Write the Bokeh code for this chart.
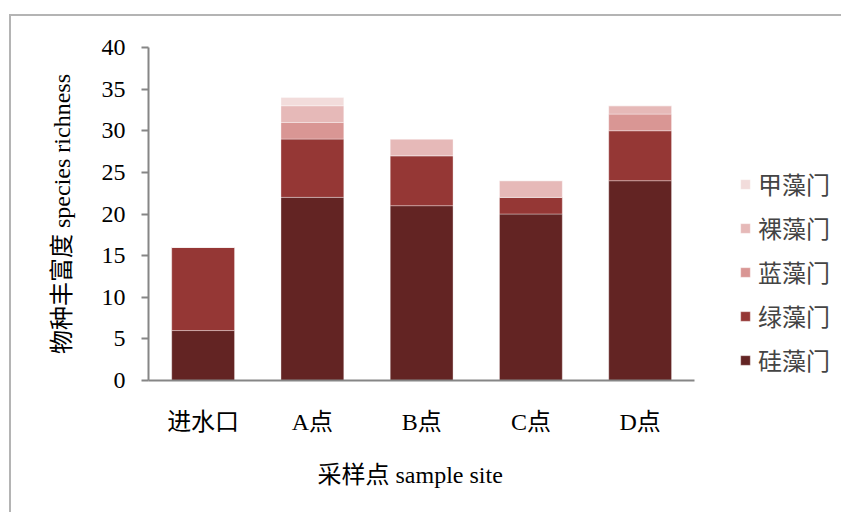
from bokeh.plotting import figure
from bokeh.models import Range1d, Legend, LegendItem, FixedTicker, ColumnDataSource, Title
from bokeh.embed import file_html
from bokeh.resources import INLINE

sites = ["进水口", "A点", "B点", "C点", "D点"]
phyla = ["硅藻门", "绿藻门", "蓝藻门", "裸藻门", "甲藻门"]
diatoms = [6, 22, 21, 20, 24]
green = [10, 7, 6, 2, 6]
cyano = [0, 2, 0, 0, 2]
eugleno = [0, 2, 2, 2, 1]
pyrro = [0, 1, 0, 0, 0]
colors = ["#632423", "#953735", "#D99694", "#E6B9B8", "#F2DCDB"]
y_ticks = [0, 5, 10, 15, 20, 25, 30, 35, 40]

FONT = "'Liberation Serif', 'Noto Sans CJK SC'"
FS = "24px"

xpos = [i + 0.5 for i in range(len(sites))]
source = ColumnDataSource(dict(x=xpos, **{phyla[0]: diatoms, phyla[1]: green,
                                          phyla[2]: cyano, phyla[3]: eugleno, phyla[4]: pyrro}))

p = figure(width=841, height=512, x_range=Range1d(0, 6.343),
           y_range=Range1d(0, 40), output_backend="svg", toolbar_location=None,
           min_border_left=148, min_border_right=0, min_border_top=47, min_border_bottom=132)
p.outline_line_color = None
p.grid.grid_line_color = None
p.border_fill_alpha = 0
p.background_fill_color = "white"
p.styles = {
    "background-color": "white",
    "background-image": "linear-gradient(#B4B4B4, #B4B4B4), linear-gradient(#B4B4B4, #B4B4B4)",
    "background-size": "2px 100%, 100% 2px",
    "background-position": "9px 14px, 9px 14px",
    "background-repeat": "no-repeat",
}

renderers = p.vbar_stack(phyla, x="x", width=0.575, source=source, color=colors,
                         line_color="white", line_alpha=0.35, line_width=1)

for ax in (p.xaxis[0], p.yaxis[0]):
    ax.axis_line_color = "#868686"
    ax.axis_line_width = 2
    ax.major_label_text_font = FONT
    ax.major_label_text_font_size = FS
    ax.major_label_text_color = "black"
    ax.axis_label_text_font = FONT
    ax.axis_label_text_font_size = FS
    ax.axis_label_text_font_style = "normal"
    ax.axis_label_text_color = "black"
    ax.minor_tick_line_color = None

p.yaxis.ticker = FixedTicker(ticks=y_ticks)
p.yaxis.major_tick_out = 7
p.yaxis.major_tick_in = 0
p.yaxis.major_tick_line_color = "#868686"
p.yaxis.major_tick_line_width = 2
p.yaxis.major_label_standoff = 16
p.yaxis.axis_label = "物种丰富度 species richness"
p.yaxis.axis_label_standoff = 24

p.xaxis.bounds = (0, len(sites))
p.xaxis.ticker = FixedTicker(ticks=xpos)
p.xaxis.major_label_overrides = {x: s for x, s in zip(xpos, sites)}
p.xaxis.major_tick_line_color = None
p.xaxis.major_label_standoff = 22

xtitle = Title(text="采样点 sample site", align="left", offset=169, standoff=44,
               text_font=FONT, text_font_size=FS, text_font_style="normal", text_color="black")
p.add_layout(xtitle, "below")

items = [LegendItem(label=phyla[i], renderers=[renderers[i]]) for i in range(4, -1, -1)]
legend = Legend(items=items, location=(591, 3), glyph_width=12, glyph_height=12,
                label_text_font=FONT, label_text_font_size=FS, spacing=9,
                label_height=30, padding=0, margin=0, border_line_color=None,
                background_fill_alpha=0, label_standoff=7)
p.add_layout(legend, "center")

open("out.html", "w").write(file_html(p, INLINE))
